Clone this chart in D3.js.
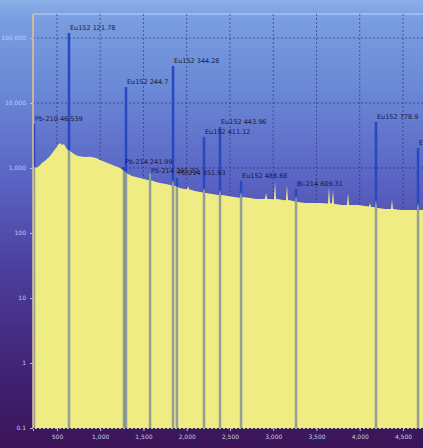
<!DOCTYPE html>
<meta charset="utf-8">
<script src="https://cdn.jsdelivr.net/npm/d3@7"></script>
<style>
  body { margin: 0; background: #3a1456; }
  text { font-family: "DejaVu Sans", sans-serif; }
</style>
<div id="my_dataviz"></div>
<script>

// spectrum: channel and counts
var channels = [223, 246, 281, 327, 373, 420, 454, 489, 512, 535, 558, 581, 604, 628, 651, 697, 743, 813, 882, 951,
  998, 1055, 1113, 1171, 1229, 1275, 1321, 1367, 1414, 1460, 1506, 1552, 1564, 1576, 1588, 1599, 1645, 1691, 1761, 1807,
  1830, 1842, 1854, 1865, 1922, 1969, 2003, 2015, 2027, 2038, 2096, 2154, 2188, 2200, 2212, 2223, 2292, 2362, 2373, 2385,
  2397, 2408, 2477, 2547, 2616, 2628, 2640, 2651, 2732, 2801, 2870, 2905, 2917, 2929, 2940, 3009, 3021, 3033, 3044, 3113,
  3147, 3159, 3171, 3183, 3252, 3264, 3276, 3287, 3368, 3449, 3541, 3633, 3645, 3657, 3668, 3679, 3691, 3703, 3715, 3796,
  3853, 3865, 3877, 3888, 3981, 4061, 4107, 4119, 4131, 4142, 4176, 4188, 4200, 4211, 4292, 4361, 4373, 4385, 4396, 4466,
  4558, 4662, 4674, 4686, 4697, 4847];
var counts = [1112, 1000, 1036, 1194, 1328, 1530, 1762, 2031, 2259, 2424, 2259, 2339, 2031, 1892, 1826, 1641, 1530, 1476, 1490, 1426,
  1328, 1237, 1152, 1073, 1000, 899, 808, 753, 727, 701, 677, 653, 650, 867, 645, 640, 609, 588, 567, 547,
  540, 653, 535, 528, 492, 475, 470, 528, 468, 465, 443, 427, 420, 492, 415, 412, 398, 384, 382, 459,
  380, 384, 371, 358, 350, 427, 350, 358, 345, 333, 333, 335, 412, 335, 333, 330, 609, 330, 333, 322,
  320, 547, 320, 322, 305, 371, 302, 300, 289, 289, 289, 285, 510, 285, 289, 285, 459, 282, 279, 270,
  270, 412, 270, 270, 270, 260, 255, 289, 252, 251, 248, 322, 245, 243, 234, 234, 322, 234, 234, 226,
  226, 226, 289, 226, 226, 226];

// identified peaks
var peakChannels = [235, 639, 1275, 1298, 1576, 1842, 1887, 2200, 2385, 2628, 3264, 4188, 4674];
var peakHeights = [4753, 119400, 1036, 17620, 753, 37070, 701, 2999, 4273, 631, 475, 5100, 2031];
var peakLabels = ["Pb-210 46.539", "Eu152 121.78", "Pb-214 241.99", "Eu152 244.7", "Pb-214 295.22", "Eu152 344.28",
  "Pb-214 351.93", "Eu152 411.12", "Eu152 443.96", "Eu152 488.68", "Bi-214 609.31", "Eu152 778.9", "Eu152 867.38"];
var peakColors = ["#2848c0", "#2848c0", "#2848c0", "#2848c0", "#2a9a50", "#2848c0", "#2848c0", "#2848c0", "#2848c0",
  "#2848c0", "#2848c0", "#2848c0", "#2848c0"];

var xTicks = [500, 1000, 1500, 2000, 2500, 3000, 3500, 4000, 4500];
var xTickLabels = ["500", "1,000", "1,500", "2,000", "2,500", "3,000", "3,500", "4,000", "4,500"];
var yTicks = [0.1, 1, 10, 100, 1000, 10000, 100000];
var yTickLabels = ["0.1", "1", "10", "100", "1,000", "10,000", "100,000"];

var W = 423, H = 448;
var margin = {top: 14, left: 33, bottom: 20};

var svg = d3.select("#my_dataviz")
  .append("svg")
    .attr("width", W)
    .attr("height", H);

var defs = svg.append("defs");
var grad = defs.append("linearGradient")
  .attr("id", "bg").attr("x1", 0).attr("y1", 0).attr("x2", 0).attr("y2", 1);
[[0, "#8cb0e8"], [0.04, "#7a9ee0"], [0.2, "#6a88d6"], [0.4, "#5a64c4"], [0.6, "#4c3e9c"], [0.8, "#42267a"], [1, "#3a1456"]]
  .forEach(function (s) { grad.append("stop").attr("offset", s[0]).attr("stop-color", s[1]); });

svg.append("rect").attr("width", W).attr("height", H).attr("fill", "url(#bg)");

var x = d3.scaleLinear()
  .domain([223, 4847])
  .range([margin.left, margin.left + 400]);

var y = d3.scaleLog()
  .domain([0.1, 234000])
  .range([H - margin.bottom, margin.top]);

// top border
svg.append("line")
  .attr("x1", margin.left).attr("x2", W)
  .attr("y1", margin.top).attr("y2", margin.top)
  .attr("stroke", "#a8c6f0").attr("stroke-width", 1.5);

// grid
svg.append("g").selectAll("line.h")
  .data(yTicks.slice(1))
  .enter().append("line")
    .attr("x1", margin.left).attr("x2", W)
    .attr("y1", function (d) { return y(d); })
    .attr("y2", function (d) { return y(d); })
    .attr("stroke", "#2a2a66").attr("stroke-opacity", 0.6)
    .attr("stroke-dasharray", "2,2");

svg.append("g").selectAll("line.v")
  .data(xTicks)
  .enter().append("line")
    .attr("x1", function (d) { return x(d); })
    .attr("x2", function (d) { return x(d); })
    .attr("y1", margin.top).attr("y2", H - margin.bottom)
    .attr("stroke", "#2a2a66").attr("stroke-opacity", 0.6)
    .attr("stroke-dasharray", "2,2");

var spectrum = channels.map(function (c, i) { return {ch: c, v: counts[i]}; });
var peaks = peakChannels.map(function (c, i) {
  return {ch: c, v: peakHeights[i], label: peakLabels[i], color: peakColors[i]};
});

// peak lines, full colour above the spectrum
svg.append("g").selectAll("line")
  .data(peaks)
  .enter().append("line")
    .attr("x1", function (d) { return x(d.ch); })
    .attr("x2", function (d) { return x(d.ch); })
    .attr("y1", function (d) { return y(d.v); })
    .attr("y2", y(0.1))
    .attr("stroke", function (d) { return d.color; })
    .attr("stroke-width", 2.5);

var area = d3.area()
  .x(function (d) { return x(d.ch); })
  .y0(y(0.1))
  .y1(function (d) { return y(d.v); });

defs.append("clipPath").attr("id", "specClip")
  .append("path").attr("d", area(spectrum));

svg.append("path")
  .attr("d", area(spectrum))
  .attr("fill", "#f0ec84");

// peak lines seen through the spectrum
svg.append("g").attr("clip-path", "url(#specClip)")
  .selectAll("line")
  .data(peaks)
  .enter().append("line")
    .attr("x1", function (d) { return x(d.ch); })
    .attr("x2", function (d) { return x(d.ch); })
    .attr("y1", function (d) { return y(d.v); })
    .attr("y2", y(0.1))
    .attr("stroke", "#3a52b0")
    .attr("stroke-opacity", 0.5)
    .attr("stroke-width", 2.5);

// peak labels
svg.append("g").selectAll("text")
  .data(peaks)
  .enter().append("text")
    .attr("x", function (d) { return x(d.ch) + 1; })
    .attr("y", function (d) { return y(d.v) - 3; })
    .attr("font-size", "6.5px")
    .attr("fill", "#161a3c")
    .text(function (d) { return d.label; });

// left axis line
svg.append("line")
  .attr("x1", margin.left).attr("x2", margin.left)
  .attr("y1", margin.top).attr("y2", H - margin.bottom)
  .attr("stroke", "#e8c488").attr("stroke-width", 1.5);

// y axis
var yAxis = svg.append("g")
  .attr("transform", "translate(" + margin.left + ",0)")
  .call(d3.axisLeft(y).tickValues(yTicks).tickSize(3)
    .tickFormat(function (d, i) { return yTickLabels[i]; }));
yAxis.select(".domain").remove();
yAxis.selectAll("line").attr("stroke", "#b8c0e8");
yAxis.selectAll("text").attr("fill", "#c4cced").attr("font-size", "6px").attr("dx", "-1");

// x axis
var xAxis = svg.append("g")
  .attr("transform", "translate(0," + (H - margin.bottom) + ")")
  .call(d3.axisBottom(x).tickValues(xTicks).tickSize(3)
    .tickFormat(function (d, i) { return xTickLabels[i]; }));
xAxis.select(".domain").attr("stroke", "#c8c8a0").attr("stroke-dasharray", "2,2");
xAxis.selectAll("line").attr("stroke", "#c0c4e0");
xAxis.selectAll("text").attr("fill", "#c8cae8").attr("font-size", "6px").attr("dy", "0.9em");

</script>
